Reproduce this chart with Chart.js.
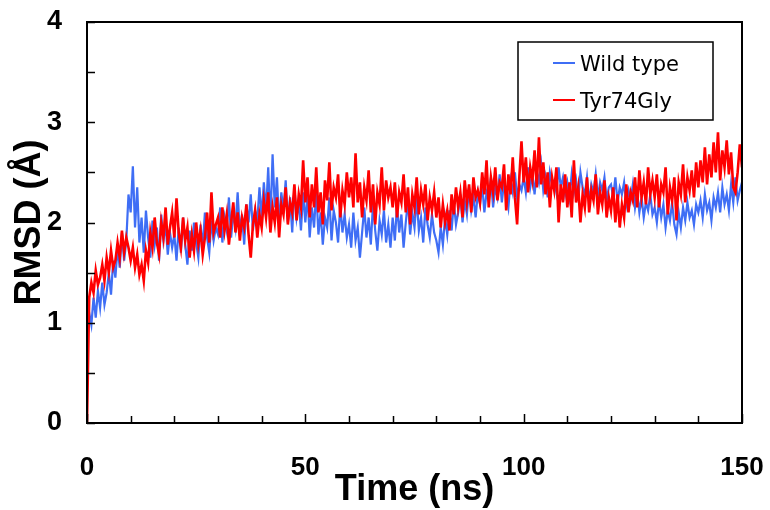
<!DOCTYPE html>
<html>
<head>
<meta charset="utf-8">
<script src="https://cdn.jsdelivr.net/npm/chart.js@4.4.1/dist/chart.umd.min.js"></script>
<style>
  html, body { margin: 0; padding: 0; background: #fff; }
  #wrap { width: 770px; height: 510px; }
</style>
</head>
<body>
<div id="wrap"><canvas id="rmsdChart" width="770" height="510"></canvas></div>
<script>
// RMSD trajectories, one sample every 0.5 ns (0 .. 150 ns)
const timeStep = 0.5;

const wildType = [
  0.82, 1.10, 0.98, 1.25, 1.05, 1.32, 1.15, 1.40, 1.18, 1.30, 1.50, 1.28, 1.62, 1.45, 1.75, 1.55, 1.90, 1.62, 1.82, 2.28,
  2.10, 2.56, 1.95, 2.35, 1.80, 2.05, 1.70, 2.12, 1.85, 1.65, 2.02, 1.78, 1.95, 1.62, 2.08, 1.82, 1.98, 1.68, 1.90, 1.75,
  1.88, 1.62, 1.95, 1.70, 2.05, 1.78, 1.58, 1.92, 1.72, 2.00, 1.80, 1.65, 1.98, 1.75, 2.10, 1.85, 1.70, 2.02, 1.82, 1.95,
  1.88, 2.15, 1.80, 2.05, 1.92, 2.25, 1.85, 2.10, 1.95, 2.30, 1.90, 2.08, 1.78, 2.18, 2.00, 2.28, 1.92, 2.12, 2.02, 2.35,
  2.05, 2.40, 2.10, 2.55, 2.00, 2.68, 2.15, 2.45, 1.98, 2.30, 2.12, 2.42, 2.00, 2.25, 1.90, 2.35, 2.05, 2.20, 1.92, 2.30,
  2.00, 2.28, 1.85, 2.15, 1.95, 2.32, 1.88, 2.10, 1.78, 2.05, 1.95, 2.25, 1.82, 2.12, 2.00, 1.80, 2.18, 1.90, 2.08, 1.85,
  1.98, 1.75, 2.10, 1.82, 1.95, 1.65, 1.90, 2.15, 1.85, 2.05, 1.78, 2.20, 1.92, 1.72, 2.02, 1.88, 2.12, 1.80, 1.98, 1.75,
  2.05, 1.82, 2.18, 1.90, 2.08, 1.75, 2.00, 2.22, 1.88, 2.10, 1.95, 2.25, 1.92, 2.05, 1.80, 2.15, 1.98, 1.85, 2.08, 1.90,
  1.82, 1.70, 1.95, 1.78, 2.05, 1.88, 2.12, 1.92, 2.20, 1.98, 2.10, 2.28, 2.00, 2.22, 2.08, 2.35, 2.12, 2.25, 2.05, 2.30,
  2.18, 2.38, 2.10, 2.30, 2.22, 2.45, 2.15, 2.35, 2.25, 2.48, 2.20, 2.40, 2.28, 2.15, 2.42, 2.30, 2.50, 2.25, 2.38, 2.32,
  2.45, 2.30, 2.55, 2.35, 2.48, 2.28, 2.52, 2.40, 2.58, 2.32, 2.45, 2.25, 2.50, 2.38, 2.42, 2.30, 2.55, 2.35, 2.45, 2.28,
  2.40, 2.25, 2.48, 2.30, 2.42, 2.22, 2.50, 2.35, 2.28, 2.45, 2.20, 2.38, 2.30, 2.48, 2.25, 2.40, 2.32, 2.45, 2.22, 2.35,
  2.38, 2.25, 2.45, 2.20, 2.35, 2.28, 2.40, 2.18, 2.32, 2.22, 2.38, 2.15, 2.30, 2.10, 2.25, 2.05, 2.20, 2.12, 2.28, 2.08,
  2.15, 2.00, 2.22, 2.05, 2.18, 1.95, 2.12, 2.02, 2.20, 1.98, 1.88, 2.10, 1.95, 2.15, 2.02, 2.20, 2.05, 2.12, 1.98, 2.18,
  2.10, 2.22, 2.05, 2.28, 2.12, 2.20, 2.02, 2.25, 2.15, 2.30, 2.10, 2.35, 2.18, 2.28, 2.12, 2.38, 2.20, 2.45, 2.22, 2.32, 2.40
];

const tyr74Gly = [
  0.00, 1.25, 1.40, 1.30, 1.52, 1.38, 1.45, 1.58, 1.42, 1.65, 1.50, 1.72, 1.55, 1.62, 1.80, 1.65, 1.92, 1.70, 1.85, 1.75,
  1.62, 1.75, 1.55, 1.68, 1.48, 1.58, 1.42, 1.72, 1.60, 1.90, 1.75, 2.05, 1.80, 1.68, 2.00, 1.85, 2.15, 1.78, 1.95, 2.10,
  1.85, 2.24, 1.90, 1.75, 2.05, 1.82, 1.95, 1.65, 1.88, 1.72, 2.00, 1.78, 1.92, 1.68, 1.85, 2.10, 1.80, 2.30, 1.90, 1.98,
  2.05, 1.85, 2.15, 1.92, 2.08, 1.78, 2.00, 2.20, 1.90, 2.10, 1.82, 2.05, 1.95, 2.18, 1.88, 1.65, 1.98, 2.12, 1.85, 2.08,
  1.95, 2.22, 2.05, 2.30, 1.90, 2.15, 2.00, 2.25, 1.85, 2.18, 2.08, 2.35, 1.98, 2.20, 2.10, 2.38, 2.02, 2.28, 2.15, 2.62,
  2.20, 2.45, 2.05, 2.38, 2.15, 2.55, 2.10, 2.30, 1.98, 2.42, 2.22, 2.60, 2.12, 2.35, 2.25, 2.48, 2.05, 2.32, 2.18, 2.50,
  2.25, 2.45, 2.15, 2.69, 2.20, 2.40, 2.05, 2.35, 2.22, 2.52, 2.10, 2.38, 1.98, 2.30, 2.18, 2.55, 2.12, 2.42, 2.25, 2.35,
  2.15, 2.40, 2.05, 2.30, 2.20, 2.48, 2.10, 2.35, 1.98, 2.28, 2.15, 2.45, 2.08, 2.32, 2.18, 2.38, 2.02, 2.25, 2.12, 2.30,
  2.05, 2.25, 1.95, 2.18, 2.00, 2.12, 1.92, 2.28, 2.08, 2.35, 2.15, 2.30, 2.05, 2.42, 2.20, 2.38, 2.10, 2.45, 2.25, 2.32,
  2.20, 2.50, 2.28, 2.62, 2.15, 2.45, 2.30, 2.55, 2.22, 2.40, 2.35, 2.58, 2.12, 2.48, 2.28, 2.65, 2.25, 1.98, 2.45, 2.81,
  2.40, 2.65, 2.30, 2.55, 2.42, 2.72, 2.35, 2.85, 2.38, 2.60, 2.28, 2.50, 2.15, 2.45, 2.32, 2.55, 2.00, 2.38, 2.20, 2.48,
  2.15, 2.40, 2.05, 2.62, 2.20, 2.35, 2.00, 2.28, 2.15, 2.45, 2.10, 2.32, 2.22, 2.48, 2.08, 2.30, 2.18, 2.42, 2.05, 2.25,
  2.12, 2.35, 2.00, 2.28, 1.95, 2.18, 2.05, 2.38, 2.10, 2.30, 2.22, 2.45, 2.15, 2.52, 2.25, 2.40, 2.18, 2.55, 2.28, 2.42,
  2.25, 2.48, 2.15, 2.38, 2.30, 2.55, 2.08, 2.35, 2.22, 2.45, 2.02, 2.40, 2.28, 2.58, 2.20, 2.45, 2.32, 2.52, 2.25, 2.60,
  2.35, 2.62, 2.40, 2.75, 2.38, 2.68, 2.45, 2.80, 2.50, 2.90, 2.42, 2.72, 2.55, 2.82, 2.48, 2.70, 2.35, 2.30, 2.50, 2.78, 2.55
];

const times = wildType.map((v, i) => i * timeStep);
const xLabelValues = [0, 50, 100, 150];
const seriesNames = ['Wild type', 'Tyr74Gly'];
const seriesColors = ['#3f6ef5', '#ff0000'];

const FONT = '"Liberation Sans", Arial, sans-serif';

function toPoints(values) {
  return values.map((v, i) => ({ x: times[i], y: v }));
}

/* frame, inward ticks and boxed legend */
const framePlugin = {
  id: 'frame',
  afterDatasetsDraw(chart) {
    const ctx = chart.ctx;
    const a = chart.chartArea;
    const xs = chart.scales.x;
    const ys = chart.scales.y;
    ctx.save();
    ctx.strokeStyle = '#000';
    ctx.lineWidth = 1.5;
    ctx.beginPath();
    ys.ticks.forEach(t => {
      const py = Math.round(ys.getPixelForValue(t.value)) + 0.5;
      ctx.moveTo(a.left, py);
      ctx.lineTo(a.left + 8, py);
    });
    xs.ticks.forEach(t => {
      const px = Math.round(xs.getPixelForValue(t.value)) + 0.5;
      const len = xLabelValues.includes(t.value) ? 9 : 7;
      ctx.moveTo(px, a.bottom);
      ctx.lineTo(px, a.bottom - len);
    });
    ctx.stroke();

    ctx.lineWidth = 2;
    ctx.strokeRect(a.left, a.top, a.right - a.left, a.bottom - a.top);

    // legend box
    ctx.fillStyle = '#fff';
    ctx.fillRect(518, 42, 195, 78);
    ctx.lineWidth = 1.5;
    ctx.strokeStyle = '#000';
    ctx.strokeRect(518, 42, 195, 78);
    ctx.font = '21px "DejaVu Sans", sans-serif';
    ctx.textBaseline = 'alphabetic';
    ctx.textAlign = 'left';
    const rows = [63, 100];
    seriesNames.forEach((name, i) => {
      ctx.strokeStyle = seriesColors[i];
      ctx.lineWidth = 2;
      ctx.beginPath();
      ctx.moveTo(553, rows[i]);
      ctx.lineTo(575, rows[i]);
      ctx.stroke();
      ctx.fillStyle = '#000';
      ctx.fillText(name, 580, rows[i] + 7.5);
    });
    ctx.restore();
  }
};

const ctx = document.getElementById('rmsdChart').getContext('2d');
const rmsdChart = new Chart(ctx, {
  type: 'line',
  data: {
    datasets: [
      {
        label: seriesNames[0],
        data: toPoints(wildType),
        borderColor: seriesColors[0],
        borderWidth: 2.2,
        pointRadius: 0,
        tension: 0,
        order: 2
      },
      {
        label: seriesNames[1],
        data: toPoints(tyr74Gly),
        borderColor: seriesColors[1],
        borderWidth: 2.6,
        pointRadius: 0,
        tension: 0,
        order: 1
      }
    ]
  },
  options: {
    responsive: false,
    animation: false,
    layout: { padding: { top: 22, right: 28, left: 0, bottom: 0 } },
    plugins: {
      legend: { display: false },
      tooltip: { enabled: false }
    },
    scales: {
      x: {
        type: 'linear',
        min: 0,
        max: 150,
        grid: { display: false, drawTicks: false },
        border: { display: false },
        afterFit: scale => {
          scale.height = 87;
          scale.paddingLeft = 0;
          scale.paddingRight = 0;
        },
        ticks: {
          stepSize: 10,
          padding: 29,
          maxRotation: 0,
          autoSkip: false,
          color: '#000',
          font: { family: FONT, size: 26, weight: 'bold' },
          callback: v => (xLabelValues.includes(v) ? v : '')
        },
        title: {
          display: true,
          text: 'Time (ns)',
          color: '#000',
          font: { family: FONT, size: 36, weight: 'bold' },
          padding: { top: 0, bottom: -1.6 }
        }
      },
      y: {
        min: 0,
        max: 4,
        grid: { display: false, drawTicks: false },
        border: { display: false },
        afterFit: scale => {
          scale.width = 87;
          scale.paddingTop = 0;
          scale.paddingBottom = 0;
        },
        ticks: {
          stepSize: 0.5,
          padding: 25,
          color: '#000',
          font: { family: FONT, size: 27, weight: 'bold' },
          callback: v => (Number.isInteger(v) ? v : '')
        },
        title: {
          display: true,
          text: 'RMSD (Å)',
          color: '#000',
          font: { family: FONT, size: 36, weight: 'bold' },
          padding: { top: 8.4, bottom: 0 }
        }
      }
    }
  },
  plugins: [framePlugin]
});
</script>
</body>
</html>
